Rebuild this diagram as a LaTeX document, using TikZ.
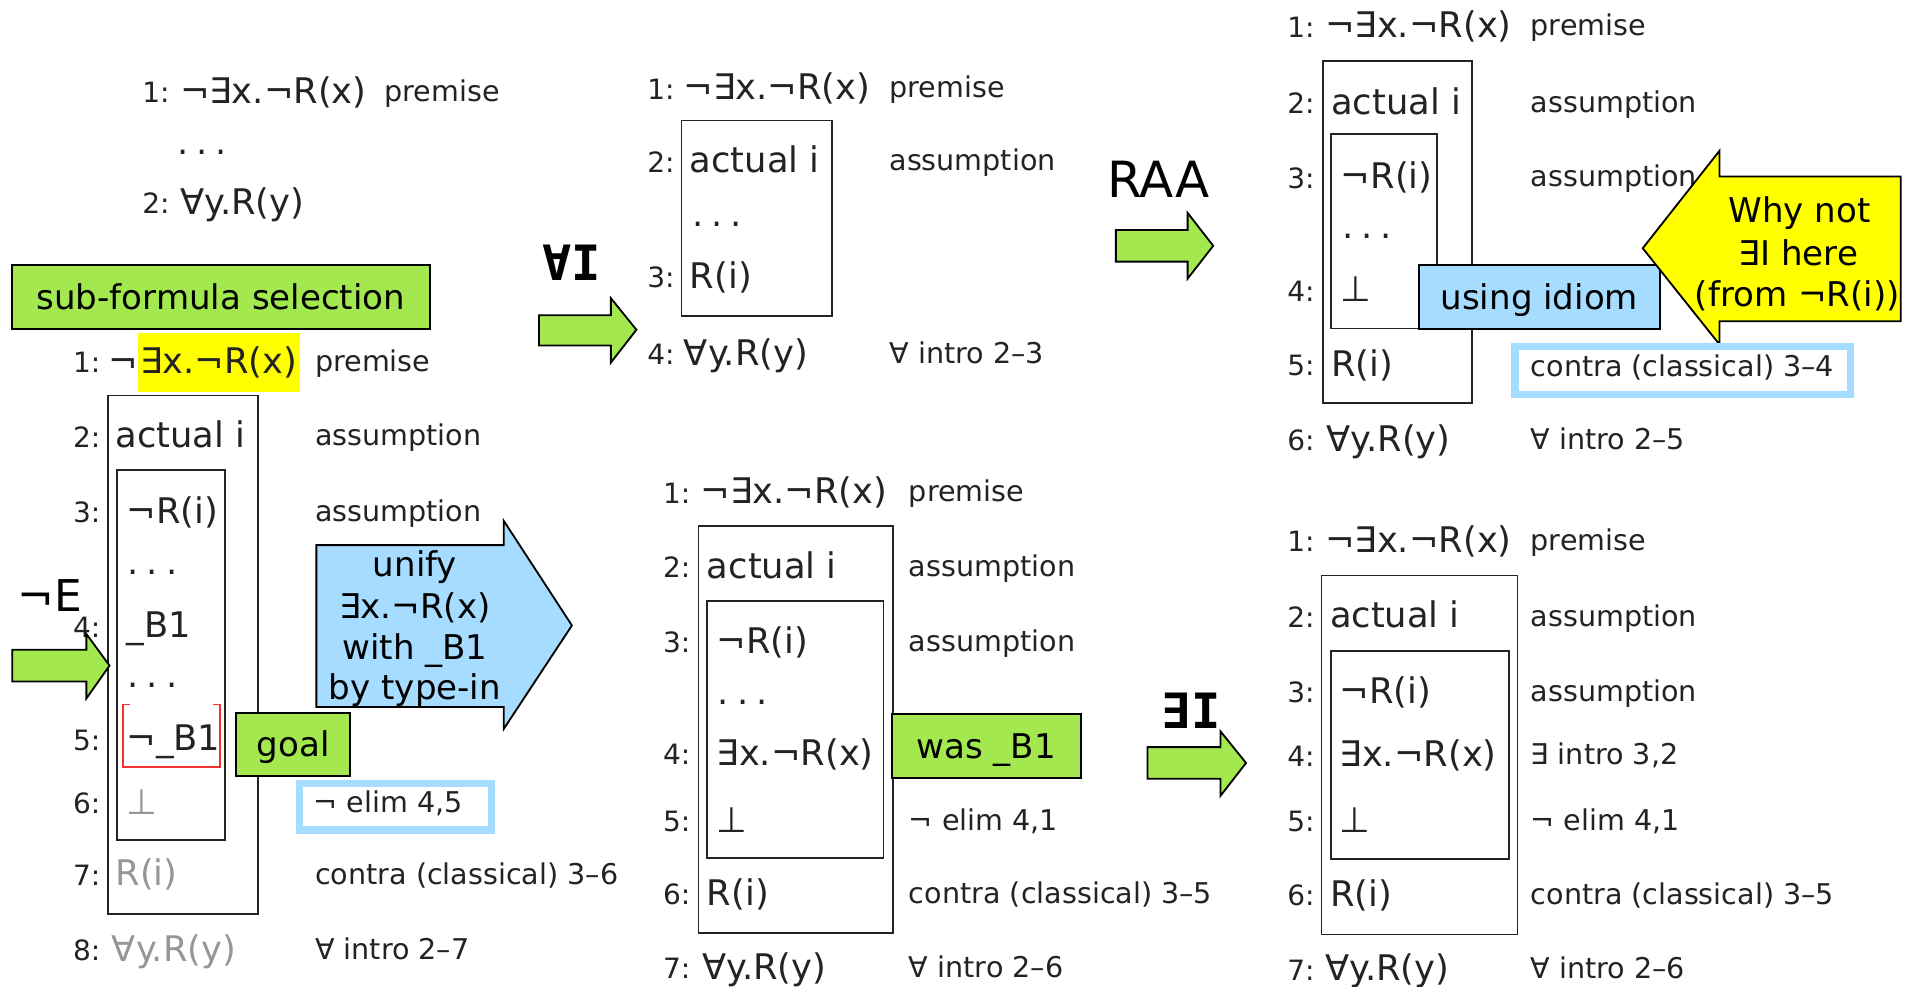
\documentclass[tikz,border=0pt]{standalone}
\usepackage{fontspec}
\setmainfont{DejaVu Sans}
\newfontfamily\monofont{DejaVu Sans Mono}
\definecolor{ink}{RGB}{35,35,35}
\definecolor{greyink}{RGB}{150,150,150}
\definecolor{gfill}{RGB}{164,232,80}
\definecolor{bfill}{RGB}{166,220,255}
\definecolor{yfill}{RGB}{255,255,0}
\definecolor{redb}{RGB}{240,50,50}
\newcommand{\threedots}{.\hspace{6.5pt}.\hspace{6.5pt}.}
\tikzset{
  every node/.style={inner sep=0pt, outer sep=0pt},
  num/.style={anchor=west, font=\fontsize{23}{23}\selectfont, text height=22pt, text depth=5pt, text=ink},
  fml/.style={anchor=west, font=\fontsize{29}{29}\selectfont, text height=25pt, text depth=7pt, text=ink},
  gfml/.style={fml, text=greyink},
  why/.style={anchor=west, font=\fontsize{23.5}{23.5}\selectfont, text height=20pt, text depth=5pt, text=ink},
  dotsn/.style={anchor=base west, font=\fontsize{29}{29}\selectfont, text=ink},
  pbox/.style={draw=ink, line width=1.5pt},
  note/.style={draw=black, line width=1.6pt, font=\fontsize{28}{28}\selectfont, text=black, text height=20pt, text depth=0pt},
  ntext/.style={anchor=base, font=\fontsize{28}{28}\selectfont, text=black},
  garrow/.style={draw=black, line width=1.5pt, fill=gfill, line join=miter},
  barrow/.style={draw=black, line width=1.5pt, fill=bfill, line join=miter},
  yarrow/.style={draw=black, line width=1.5pt, fill=yfill, line join=miter},
  frame/.style={draw=bfill, line width=6pt},
  biglbl/.style={font=\fontsize{41}{41}\selectfont, text=black},
  monolbl/.style={font=\monofont\bfseries\fontsize{40}{40}\selectfont, text=black}
}
\begin{document}
\begin{tikzpicture}[x=1pt,y=-1pt]
\useasboundingbox (0,0) rectangle (1568,811);
\fill[white] (0,0) rectangle (1568,811);

% ---------- Panel A top ----------
\node[num] (a-n1) at (117,76) {1:};
\node[fml] (a-f1) at (148,76) {¬∃x.¬R(x)};
\node[why] (a-j1) at (316,76) {premise};
\node[dotsn] (a-d) at (146,127) {\threedots};
\node[num] (a-n2) at (117,167) {2:};
\node[fml] (a-f2) at (148,167) {∀y.R(y)};

\node[note, fill=gfill, minimum width=343pt, minimum height=52pt] (n-sub) at (181.5,244) {sub-formula selection};

% ---------- Panel A lower ----------
\draw[pbox] (89,325) rectangle (212,751);
\draw[pbox] (96,386) rectangle (185,690);
\node[num] (l-n1) at (60,298) {1:};
\node[fml] (l-f1a) at (89,298) {¬};
\node[fml, fill=yfill, inner xsep=2pt, minimum height=48pt] (l-f1b) at (l-f1a.east) {∃x.¬R(x)};
\node[why] (l-j1) at (259,298) {premise};
\node[num] (l-n2) at (60,359) {2:};
\node[fml] (l-f2) at (95,359) {actual i};
\node[why] (l-j2) at (259,359) {assumption};
\node[num] (l-n3) at (60,421) {3:};
\node[fml] (l-f3) at (104,421) {¬R(i)};
\node[why] (l-j3) at (259,421) {assumption};
\node[dotsn] (l-d1) at (105,472) {\threedots};
\node[num] (l-n4) at (60,515) {4:};
\node[fml] (l-f4) at (104,515) {\_B1};
\node[dotsn] (l-d2) at (105,565) {\threedots};
\node[num] (l-n5) at (60,608) {5:};
\node[fml] (l-f5) at (104,608) {¬\_B1};
\node[num] (l-n6) at (60,660) {6:};
\node[gfml] (l-f6) at (104,660) {⊥};
\node[why] (l-j6) at (258,660) {¬ elim 4,5};
\node[num] (l-n7) at (60,719) {7:};
\node[gfml] (l-f7) at (95,719) {R(i)};
\node[why] (l-j7) at (259,719) {contra (classical) 3–6};
\node[num] (l-n8) at (60,781) {8:};
\node[gfml] (l-f8) at (92,781) {∀y.R(y)};
\node[why] (l-j8) at (259,781) {∀ intro 2–7};

\draw[redb, line width=1.5pt] (107,579) -- (101,579) -- (101,630) -- (181,630) -- (181,579) -- (175,579);
\draw[frame] (246,644) rectangle (404,682);
\node[note, fill=gfill, minimum width=94pt, minimum height=52pt] (n-goal) at (241,612) {goal};

% blue arrow
\draw[barrow] (260,448) -- (414,448) -- (414,428) -- (470,514) -- (414,599) -- (414,581) -- (260,581) -- cycle;
\node[ntext] (u-1) at (341,474) {unify};
\node[ntext] (u-2) at (341,508) {∃x.¬R(x)};
\node[ntext] (u-3) at (341,542) {with \_B1};
\node[ntext] (u-4) at (341,575) {by type-in};

% not-E
\node[font=\fontsize{36}{36}\selectfont, text=black] (lbl-ne) at (41,489) {¬E};
\draw[garrow] (10,534) -- (71,534) -- (71,521) -- (90,547) -- (71,574) -- (71,560) -- (10,560) -- cycle;

% forall-I
\node[monolbl] (lbl-ai) at (470,216) {∀I};
\draw[garrow] (443,259) -- (502,259) -- (502,245) -- (523,271) -- (502,298) -- (502,284) -- (443,284) -- cycle;

% ---------- Panel B ----------
\draw[pbox] (560,99) rectangle (684,260);
\node[num] (b-n1) at (532,73) {1:};
\node[fml] (b-f1) at (562,73) {¬∃x.¬R(x)};
\node[why] (b-j1) at (731,73) {premise};
\node[num] (b-n2) at (532,133) {2:};
\node[fml] (b-f2) at (567,133) {actual i};
\node[why] (b-j2) at (731,133) {assumption};
\node[dotsn] (b-d) at (569,186) {\threedots};
\node[num] (b-n3) at (532,228) {3:};
\node[fml] (b-f3) at (567,228) {R(i)};
\node[num] (b-n4) at (532,291) {4:};
\node[fml] (b-f4) at (562,291) {∀y.R(y)};
\node[why] (b-j4) at (731,291) {∀ intro 2–3};

% RAA
\node[biglbl] (lbl-raa) at (952,147) {RAA};
\draw[garrow] (917,189) -- (976,189) -- (976,175) -- (997,202) -- (976,229) -- (976,215) -- (917,215) -- cycle;

% ---------- Panel C ----------
\draw[pbox] (1087,50) rectangle (1210,331);
\draw[pbox] (1094,110) rectangle (1181,270);
\node[num] (c-n1) at (1058,22) {1:};
\node[fml] (c-f1) at (1089,22) {¬∃x.¬R(x)};
\node[why] (c-j1) at (1258,22) {premise};
\node[num] (c-n2) at (1058,85) {2:};
\node[fml] (c-f2) at (1094,85) {actual i};
\node[why] (c-j2) at (1258,85) {assumption};
\node[num] (c-n3) at (1058,146) {3:};
\node[fml] (c-f3) at (1102,146) {¬R(i)};
\node[why] (c-j3) at (1258,146) {assumption};
\node[dotsn] (c-d) at (1103,196) {\threedots};
\node[num] (c-n4) at (1058,239) {4:};
\node[fml] (c-f4) at (1102,239) {⊥};
\node[num] (c-n5) at (1058,300) {5:};
\node[fml] (c-f5) at (1094,300) {R(i)};
\node[why] (c-j5) at (1258,302) {contra (classical) 3–4};
\node[num] (c-n6) at (1058,362) {6:};
\node[fml] (c-f6) at (1090,362) {∀y.R(y)};
\node[why] (c-j6) at (1258,362) {∀ intro 2–5};

\node[note, fill=bfill, minimum width=198pt, minimum height=52pt] (n-idiom) at (1265,244) {using idiom};
\draw[yarrow] (1562,145) -- (1413,145) -- (1413,124) -- (1350,204) -- (1413,283) -- (1413,264) -- (1562,264) -- cycle;
\node[ntext] (w-1) at (1479,183) {Why not};
\node[ntext] (w-2) at (1478,218) {∃I here};
\node[ntext] (w-3) at (1477,252) {(from ¬R(i))};
\draw[frame] (1245,285) rectangle (1521,324);

% ---------- Panel D ----------
\draw[pbox] (574,432) rectangle (734,767);
\draw[pbox] (581,494) rectangle (726,705);
\node[num] (d-n1) at (545,405) {1:};
\node[fml] (d-f1) at (576,405) {¬∃x.¬R(x)};
\node[why] (d-j1) at (747,405) {premise};
\node[num] (d-n2) at (545,466) {2:};
\node[fml] (d-f2) at (581,466) {actual i};
\node[why] (d-j2) at (747,466) {assumption};
\node[num] (d-n3) at (545,528) {3:};
\node[fml] (d-f3) at (589,528) {¬R(i)};
\node[why] (d-j3) at (747,528) {assumption};
\node[dotsn] (d-d) at (590,579) {\threedots};
\node[num] (d-n4) at (545,620) {4:};
\node[fml] (d-f4) at (589,620) {∃x.¬R(x)};
\node[num] (d-n5) at (545,675) {5:};
\node[fml] (d-f5) at (589,675) {⊥};
\node[why] (d-j5) at (747,675) {¬ elim 4,1};
\node[num] (d-n6) at (545,735) {6:};
\node[fml] (d-f6) at (581,735) {R(i)};
\node[why] (d-j6) at (747,735) {contra (classical) 3–5};
\node[num] (d-n7) at (545,796) {7:};
\node[fml] (d-f7) at (577,796) {∀y.R(y)};
\node[why] (d-j7) at (747,796) {∀ intro 2–6};

\node[note, fill=gfill, minimum width=155pt, minimum height=52pt] (n-was) at (810.5,613) {was \_B1};

% exists-I
\node[monolbl] (lbl-ei) at (979,584) {∃I};
\draw[garrow] (943,614) -- (1003,614) -- (1003,601) -- (1024,627) -- (1003,654) -- (1003,640) -- (943,640) -- cycle;

% ---------- Panel E ----------
\draw[pbox] (1086,473) rectangle (1247,768);
\draw[pbox] (1094,535) rectangle (1240,706);
\node[num] (e-n1) at (1058,445) {1:};
\node[fml] (e-f1) at (1089,445) {¬∃x.¬R(x)};
\node[why] (e-j1) at (1258,445) {premise};
\node[num] (e-n2) at (1058,507) {2:};
\node[fml] (e-f2) at (1093,507) {actual i};
\node[why] (e-j2) at (1258,507) {assumption};
\node[num] (e-n3) at (1058,569) {3:};
\node[fml] (e-f3) at (1101,569) {¬R(i)};
\node[why] (e-j3) at (1258,569) {assumption};
\node[num] (e-n4) at (1058,621) {4:};
\node[fml] (e-f4) at (1101,621) {∃x.¬R(x)};
\node[why] (e-j4) at (1258,621) {∃ intro 3,2};
\node[num] (e-n5) at (1058,675) {5:};
\node[fml] (e-f5) at (1101,675) {⊥};
\node[why] (e-j5) at (1258,675) {¬ elim 4,1};
\node[num] (e-n6) at (1058,736) {6:};
\node[fml] (e-f6) at (1093,736) {R(i)};
\node[why] (e-j6) at (1258,736) {contra (classical) 3–5};
\node[num] (e-n7) at (1058,797) {7:};
\node[fml] (e-f7) at (1089,797) {∀y.R(y)};
\node[why] (e-j7) at (1258,797) {∀ intro 2–6};
\end{tikzpicture}
\end{document}
